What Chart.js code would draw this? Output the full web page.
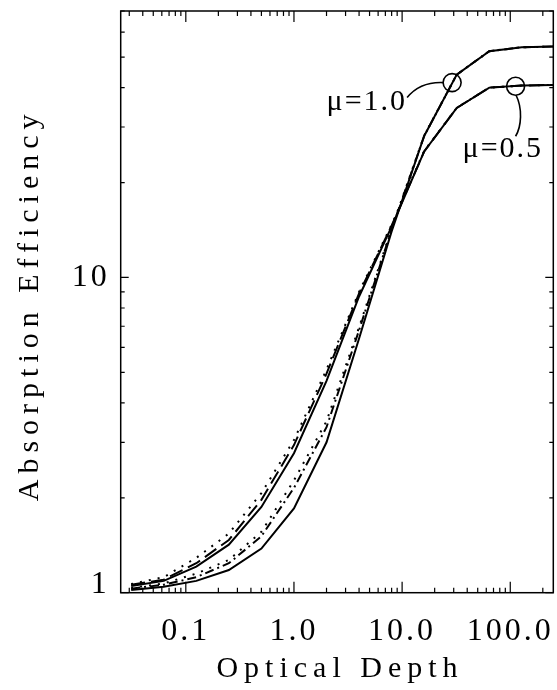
<!DOCTYPE html>
<html>
<head>
<meta charset="utf-8">
<script src="https://cdn.jsdelivr.net/npm/chart.js@4.4.0/dist/chart.umd.min.js"></script>
<style>
  html, body { margin: 0; padding: 0; background: #fff; }
  #wrap { width: 557px; height: 690px; }
</style>
</head>
<body>
<div id="wrap"><canvas id="absChart" width="557" height="690"></canvas></div>
<script>
// optical depth grid shared by all curves
const tau = [0.03125, 0.0625, 0.125, 0.25, 0.5, 1, 2, 4, 8, 16, 32, 64, 128, 256];

// mu = 1.0 family (steeper, higher plateau)
const mu10Solid  = [1.02, 1.045, 1.09, 1.18, 1.38, 1.85, 3.0, 6.4, 14.0, 28.1, 44.0, 52.2, 53.7, 54.0];
const mu10Dashed = [1.03, 1.06, 1.12, 1.24, 1.51, 2.15, 3.35, 6.8, 14.2, 28.1, 44.0, 52.2, 53.7, 54.0];
const mu10Dotted = [1.035, 1.07, 1.15, 1.27, 1.56, 2.27, 3.5, 6.95, 14.3, 28.2, 44.0, 52.2, 53.7, 54.0];

// mu = 0.5 family (flatter, lower plateau)
const mu05Solid  = [1.05, 1.09, 1.21, 1.42, 1.87, 2.77, 4.7, 8.7, 14.5, 25.1, 34.5, 40.0, 40.6, 40.8];
const mu05Dashed = [1.06, 1.10, 1.24, 1.47, 1.97, 2.94, 4.95, 8.9, 14.6, 25.1, 34.5, 40.0, 40.6, 40.8];
const mu05Dotted = [1.065, 1.12, 1.29, 1.54, 2.07, 3.05, 5.1, 9.0, 14.7, 25.2, 34.5, 40.0, 40.6, 40.8];

const xTickValues = [0.1, 1, 10, 100];
const xTickLabels = ['0.1', '1.0', '10.0', '100.0'];
const yTickValues = [1, 10];
const yTickLabels = ['1', '10'];

// where the two curve families are marked
const markLabels = ['\u03bc=1.0', '\u03bc=0.5'];
const markTau = [29, 112];
const markValue = [41.5, 40.4];

const serif = "'Liberation Serif', 'Times New Roman', serif";

function series(values, dash) {
    return {
        data: tau.map((t, i) => ({ x: t, y: values[i] })),
        borderColor: '#000',
        borderWidth: 2,
        borderDash: dash,
        pointRadius: 0,
        tension: 0,
        fill: false
    };
}

function decadeTicks(min, max) {
    const out = [];
    for (let e = Math.floor(Math.log10(min)); e <= Math.ceil(Math.log10(max)); e++) {
        for (let m = 1; m <= 9; m++) {
            const v = m * Math.pow(10, e);
            if (v >= min && v <= max) out.push({ v: v, major: m === 1 });
        }
    }
    return out;
}

const frame = {
    id: 'frame',
    beforeDraw(chart) {
        chart.ctx.letterSpacing = '3px';
    },
    afterDraw(chart) {
        const { ctx, chartArea: a, scales: { x, y } } = chart;
        ctx.save();
        ctx.letterSpacing = '0px';
        ctx.strokeStyle = '#000';
        ctx.lineWidth = 1.5;
        ctx.strokeRect(a.left, a.top, a.right - a.left, a.bottom - a.top);

        // inward tick marks on all four sides
        ctx.lineWidth = 1.2;
        ctx.beginPath();
        decadeTicks(x.min, x.max).forEach(t => {
            const px = x.getPixelForValue(t.v);
            const len = t.major ? 11 : 5;
            ctx.moveTo(px, a.bottom); ctx.lineTo(px, a.bottom - len);
            ctx.moveTo(px, a.top); ctx.lineTo(px, a.top + len);
        });
        decadeTicks(y.min, y.max).forEach(t => {
            const py = y.getPixelForValue(t.v);
            const len = t.major ? 8 : 4;
            ctx.moveTo(a.left, py); ctx.lineTo(a.left + len, py);
            ctx.moveTo(a.right, py); ctx.lineTo(a.right - len, py);
        });
        ctx.stroke();

        // axis titles
        ctx.fillStyle = '#000';
        ctx.font = '30px ' + serif;
        ctx.letterSpacing = '6px';
        ctx.textAlign = 'center';
        ctx.textBaseline = 'alphabetic';
        ctx.fillText('Optical Depth', (a.left + a.right) / 2 + 3, 677);
        ctx.save();
        ctx.translate(38, (a.top + a.bottom) / 2 + 3);
        ctx.rotate(-Math.PI / 2);
        ctx.fillText('Absorption Efficiency', 0, 0);
        ctx.restore();

        // circles on the curves, leaders and labels
        ctx.letterSpacing = '2px';
        ctx.font = '30px ' + serif;
        ctx.lineWidth = 1.6;
        const c1 = { x: x.getPixelForValue(markTau[0]), y: y.getPixelForValue(markValue[0]) };
        const c2 = { x: x.getPixelForValue(markTau[1]), y: y.getPixelForValue(markValue[1]) };
        [c1, c2].forEach(c => {
            ctx.beginPath();
            ctx.arc(c.x, c.y, 9, 0, Math.PI * 2);
            ctx.stroke();
        });
        ctx.beginPath();
        ctx.moveTo(c1.x - 9, c1.y);
        ctx.quadraticCurveTo(c1.x - 32, c1.y - 1, c1.x - 45, c1.y + 15);
        ctx.stroke();
        ctx.beginPath();
        ctx.moveTo(c2.x + 0.5, c2.y + 9);
        ctx.bezierCurveTo(c2.x + 7, c2.y + 22, c2.x + 6, c2.y + 40, c2.x, c2.y + 50);
        ctx.stroke();

        ctx.textAlign = 'right';
        ctx.fillText(markLabels[0], c1.x - 45, c1.y + 27);
        ctx.textAlign = 'left';
        ctx.fillText(markLabels[1], c2.x - 53, c2.y + 71);
        ctx.restore();
    }
};

const ctx = document.getElementById('absChart').getContext('2d');
const absChart = new Chart(ctx, {
    type: 'line',
    data: {
        datasets: [
            series(mu10Solid, []),
            series(mu10Dashed, [9, 4, 2, 4]),
            series(mu10Dotted, [2, 7]),
            series(mu05Solid, []),
            series(mu05Dashed, [14, 6]),
            series(mu05Dotted, [2, 7])
        ]
    },
    options: {
        responsive: false,
        animation: false,
        devicePixelRatio: 1,
        layout: { padding: { top: 11, right: 3.7, left: 0, bottom: 0 } },
        plugins: {
            legend: { display: false },
            tooltip: { enabled: false }
        },
        scales: {
            x: {
                type: 'logarithmic',
                min: 0.025,
                max: 250,
                grid: { display: false, drawTicks: false },
                border: { display: false },
                afterBuildTicks: s => { s.ticks = xTickValues.map(v => ({ value: v })); },
                afterFit: s => { s.height = 97.3; s.paddingLeft = 0; s.paddingRight = 0; },
                ticks: {
                    autoSkip: false,
                    maxRotation: 0,
                    padding: 20,
                    color: '#000',
                    font: { family: serif, size: 32 },
                    callback: (v, i) => xTickLabels[i]
                }
            },
            y: {
                type: 'logarithmic',
                min: 1,
                max: 70,
                grid: { display: false, drawTicks: false },
                border: { display: false },
                afterBuildTicks: s => { s.ticks = yTickValues.map(v => ({ value: v })); },
                afterFit: s => { s.width = 120.7; s.paddingTop = 0; s.paddingBottom = 0; },
                ticks: {
                    autoSkip: false,
                    padding: 11,
                    color: '#000',
                    // the bottom label sits just above the axis line, as in the original
                    font: c => ({ family: serif, size: 32, lineHeight: c.index === 0 ? 0.5 : 1.2 }),
                    callback: (v, i) => i === 0 ? [yTickLabels[i], ''] : yTickLabels[i]
                }
            }
        }
    },
    plugins: [frame]
});
</script>
</body>
</html>
